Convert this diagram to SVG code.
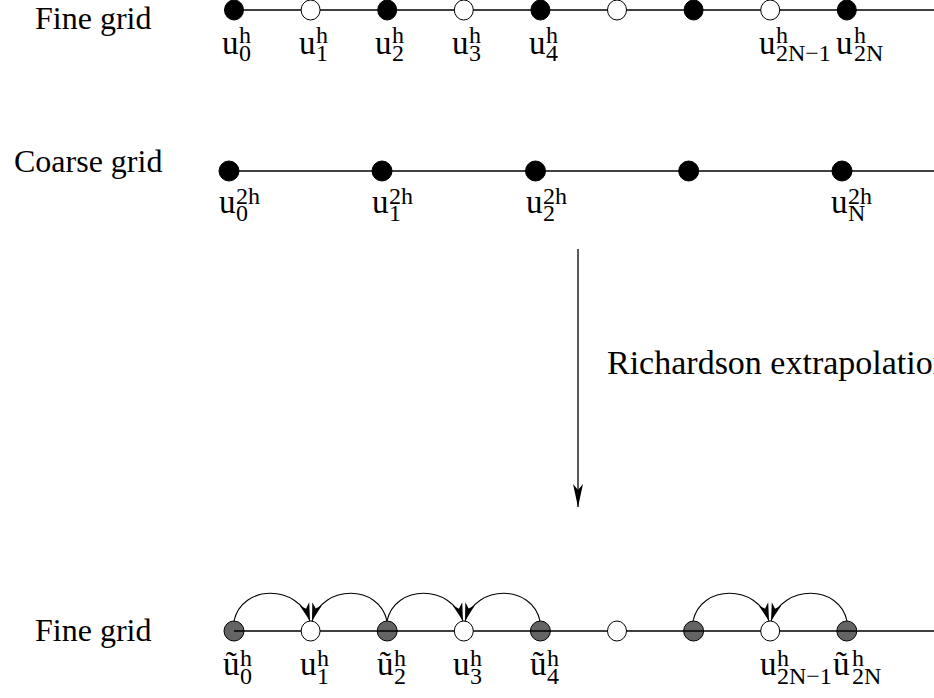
<svg xmlns="http://www.w3.org/2000/svg" width="934" height="698" viewBox="0 0 934 698">
<defs>
<marker id="ah" viewBox="-20 -7 22 14" refX="0" refY="0" markerWidth="22" markerHeight="14" markerUnits="userSpaceOnUse" orient="auto">
<path d="M0,0 L-18,-5 L-13,0 L-18,5 Z" fill="#000"/>
</marker>
<marker id="ahv" viewBox="-24 -7 26 14" refX="0" refY="0" markerWidth="26" markerHeight="14" markerUnits="userSpaceOnUse" orient="auto">
<path d="M0,0 L-23,-5 L-17,0 L-23,5 Z" fill="#000"/>
</marker>
</defs>
<style>
text{font-family:"Liberation Serif","Times New Roman",serif;fill:#000}
.t{font-size:32px}
.r{font-size:34px}
.u{font-size:33px}
.s{font-size:24px}
.ln{stroke:#000;stroke-width:1.3;fill:none}
.fb{fill:#000;stroke:#000;stroke-width:1}
.fo{fill:#fff;stroke:#000;stroke-width:1}
.fg{fill:#646464;stroke:#000;stroke-width:1}
.arc{stroke:#000;stroke-width:1.1;fill:none;marker-end:url(#ah)}
</style>
<rect width="934" height="698" fill="#fff"/>

<text class="t" x="35" y="29">Fine grid</text>
<text class="t" x="14" y="172">Coarse grid</text>
<text class="t" x="35" y="641">Fine grid</text>
<text class="r" x="607" y="374">Richardson extrapolation</text>

<g id="connectors">
<line class="ln" x1="234" y1="10" x2="934" y2="10"/>
<line class="ln" x1="229" y1="171" x2="934" y2="171"/>
<line x1="578" y1="249" x2="578" y2="507" stroke="#000" stroke-width="1.3" marker-end="url(#ahv)"/>
<path class="arc" d="M234,621 C242,584 298,584 310,621"/>
<path class="arc" d="M387,621 C379,584 323,584 312,621"/>
<path class="arc" d="M387,621 C395,584 451,584 463,621"/>
<path class="arc" d="M540,621 C532,584 476,584 465,621"/>
<path class="arc" d="M693,621 C701,584 757,584 769,621"/>
<path class="arc" d="M847,621 C839,584 783,584 771,621"/>
</g>

<g id="fine-top">
<ellipse class="fb" cx="234" cy="10" rx="9.5" ry="10"/>
<ellipse class="fo" cx="310.6" cy="10" rx="9.5" ry="10"/>
<ellipse class="fb" cx="387.2" cy="10" rx="9.5" ry="10"/>
<ellipse class="fo" cx="463.8" cy="10" rx="9.5" ry="10"/>
<ellipse class="fb" cx="540.4" cy="10" rx="9.5" ry="10"/>
<ellipse class="fo" cx="617" cy="10" rx="9.5" ry="10"/>
<ellipse class="fb" cx="693.6" cy="10" rx="9.5" ry="10"/>
<ellipse class="fo" cx="770.2" cy="10" rx="9.5" ry="10"/>
<ellipse class="fb" cx="846.8" cy="10" rx="9.5" ry="10"/>
</g>
<g id="fine-top-labels">
<text id="lt0"><tspan class="u" x="222" y="54">u</tspan><tspan class="s" x="239" y="43">h</tspan><tspan class="s" x="239" y="61">0</tspan></text>
<text id="lt1"><tspan class="u" x="299" y="54">u</tspan><tspan class="s" x="316" y="43">h</tspan><tspan class="s" x="316" y="61">1</tspan></text>
<text id="lt2"><tspan class="u" x="375" y="54">u</tspan><tspan class="s" x="392" y="43">h</tspan><tspan class="s" x="392" y="61">2</tspan></text>
<text id="lt3"><tspan class="u" x="452" y="54">u</tspan><tspan class="s" x="469" y="43">h</tspan><tspan class="s" x="469" y="61">3</tspan></text>
<text id="lt4"><tspan class="u" x="529" y="54">u</tspan><tspan class="s" x="546" y="43">h</tspan><tspan class="s" x="546" y="61">4</tspan></text>
<text id="lt5"><tspan class="u" x="759" y="54">u</tspan><tspan class="s" x="776" y="43">h</tspan><tspan class="s" x="776" y="61">2N−1</tspan></text>
<text id="lt6"><tspan class="u" x="836" y="54">u</tspan><tspan class="s" x="854" y="43">h</tspan><tspan class="s" x="854" y="61">2N</tspan></text>
</g>

<g id="coarse">
<circle class="fb" cx="229" cy="171" r="10"/>
<circle class="fb" cx="382" cy="171" r="10"/>
<circle class="fb" cx="535.5" cy="171" r="10"/>
<circle class="fb" cx="688.7" cy="171" r="10"/>
<circle class="fb" cx="842" cy="171" r="10"/>
</g>
<g id="coarse-labels">
<text id="lc0"><tspan class="u" x="219" y="213">u</tspan><tspan class="s" x="236" y="204">2h</tspan><tspan class="s" x="236" y="221">0</tspan></text>
<text id="lc1"><tspan class="u" x="372" y="213">u</tspan><tspan class="s" x="389" y="204">2h</tspan><tspan class="s" x="389" y="221">1</tspan></text>
<text id="lc2"><tspan class="u" x="526" y="213">u</tspan><tspan class="s" x="543" y="204">2h</tspan><tspan class="s" x="543" y="221">2</tspan></text>
<text id="lc3"><tspan class="u" x="831" y="213">u</tspan><tspan class="s" x="848" y="204">2h</tspan><tspan class="s" x="848" y="221">N</tspan></text>
</g>

<g id="fine-bottom">
<circle class="fg" cx="234" cy="631" r="10"/>
<circle class="fg" cx="387.2" cy="631" r="10"/>
<circle class="fg" cx="540.4" cy="631" r="10"/>
<circle class="fg" cx="693.6" cy="631" r="10"/>
<circle class="fg" cx="846.8" cy="631" r="10"/>
<line class="ln" x1="234" y1="631" x2="934" y2="631"/>
<ellipse class="fo" cx="310.6" cy="631" rx="9.5" ry="10"/>
<ellipse class="fo" cx="463.8" cy="631" rx="9.5" ry="10"/>
<ellipse class="fo" cx="617" cy="631" rx="9.5" ry="10"/>
<ellipse class="fo" cx="770.2" cy="631" rx="9.5" ry="10"/>
</g>
<g id="fine-bottom-labels">
<text id="lb0"><tspan class="u" x="223" y="675">ũ</tspan><tspan class="s" x="240" y="666">h</tspan><tspan class="s" x="240" y="684">0</tspan></text>
<text id="lb1"><tspan class="u" x="300" y="675">u</tspan><tspan class="s" x="317" y="666">h</tspan><tspan class="s" x="317" y="684">1</tspan></text>
<text id="lb2"><tspan class="u" x="377" y="675">ũ</tspan><tspan class="s" x="394" y="666">h</tspan><tspan class="s" x="394" y="684">2</tspan></text>
<text id="lb3"><tspan class="u" x="453" y="675">u</tspan><tspan class="s" x="470" y="666">h</tspan><tspan class="s" x="470" y="684">3</tspan></text>
<text id="lb4"><tspan class="u" x="530" y="675">ũ</tspan><tspan class="s" x="547" y="666">h</tspan><tspan class="s" x="547" y="684">4</tspan></text>
<text id="lb5"><tspan class="u" x="760" y="675">u</tspan><tspan class="s" x="777" y="666">h</tspan><tspan class="s" x="777" y="684">2N−1</tspan></text>
<text id="lb6"><tspan class="u" x="833" y="675">ũ</tspan><tspan class="s" x="852" y="666">h</tspan><tspan class="s" x="852" y="684">2N</tspan></text>
</g>
</svg>
